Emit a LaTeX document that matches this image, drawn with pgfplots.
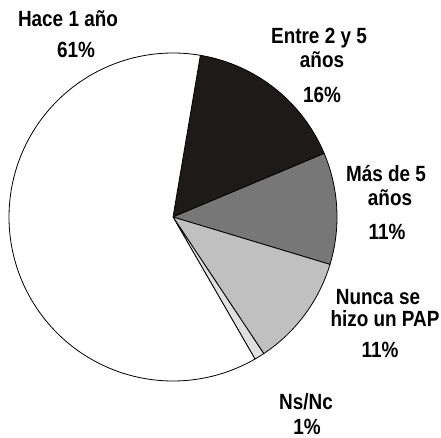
\documentclass[border=0pt]{standalone}
\usepackage{fontspec}
\usepackage{pgfplots}
\usepackage{pgfplotstable}
\pgfplotsset{compat=1.18}
\newfontfamily\lab{Liberation Sans}[FakeStretch=0.86]
\definecolor{cA}{HTML}{1E1A1A}
\definecolor{cB}{HTML}{777777}
\definecolor{cC}{HTML}{C0C0C0}
\definecolor{cD}{HTML}{E0E0E0}
\definecolor{cE}{HTML}{FFFFFF}
\pgfplotstableread{
share
16
11
11
1
61
}\piedata
\pgfplotstablegetelem{0}{share}\of\piedata \let\sA\pgfplotsretval
\pgfplotstablegetelem{1}{share}\of\piedata \let\sB\pgfplotsretval
\pgfplotstablegetelem{2}{share}\of\piedata \let\sC\pgfplotsretval
\pgfplotstablegetelem{3}{share}\of\piedata \let\sD\pgfplotsretval
\pgfplotstablegetelem{4}{share}\of\piedata \let\sE\pgfplotsretval
\pgfmathsetmacro\aA{80.4}
\pgfmathsetmacro\aB{\aA-3.6*\sA}
\pgfmathsetmacro\aC{\aB-3.6*\sB}
\pgfmathsetmacro\aD{\aC-3.6*\sC}
\pgfmathsetmacro\aE{\aD-3.6*\sD}
\pgfmathsetmacro\aF{\aE-3.6*\sE}
\begin{document}
\begin{tikzpicture}
\begin{axis}[
  scale only axis, width=441pt, height=438pt,
  xmin=0, xmax=441, ymin=0, ymax=438, y dir=reverse,
  hide axis, clip=false,
  every axis plot/.append style={draw=black, line width=0.8pt, line join=round},
]
\addplot[fill=cA, domain=\aB:\aA, samples=60, variable=\t] ({173+164*cos(t)},{217-164*sin(t)}) -- (axis cs:173,217) -- cycle;
\addplot[fill=cB, domain=\aC:\aB, samples=60, variable=\t] ({173+164*cos(t)},{217-164*sin(t)}) -- (axis cs:173,217) -- cycle;
\addplot[fill=cC, domain=\aD:\aC, samples=60, variable=\t] ({173+164*cos(t)},{217-164*sin(t)}) -- (axis cs:173,217) -- cycle;
\addplot[fill=cD, domain=\aE:\aD, samples=10, variable=\t] ({173+164*cos(t)},{217-164*sin(t)}) -- (axis cs:173,217) -- cycle;
\addplot[fill=cE, domain=\aF:\aE, samples=200, variable=\t] ({173+164*cos(t)},{217-164*sin(t)}) -- (axis cs:173,217) -- cycle;
\tikzset{lb/.style={anchor=base, inner sep=0pt, font=\lab\bfseries\fontsize{22}{24}\selectfont}}
\node[lb] at (axis cs:68,27) {Hace 1 año};
\node[lb] at (axis cs:76,58) {61\%};
\node[lb] at (axis cs:319,44) {Entre 2 y 5};
\node[lb] at (axis cs:322,68) {años};
\node[lb] at (axis cs:322,103) {16\%};
\node[lb] at (axis cs:386,182) {Más de 5};
\node[lb] at (axis cs:390,205) {años};
\node[lb] at (axis cs:387,240) {11\%};
\node[lb] at (axis cs:378,304) {Nunca se};
\node[lb] at (axis cs:385,326) {hizo un PAP};
\node[lb] at (axis cs:380,357) {11\%};
\node[lb] at (axis cs:306,409) {Ns/Nc};
\node[lb] at (axis cs:307,434) {1\%};
\end{axis}
\pgfresetboundingbox
\path[use as bounding box] (0,0) rectangle (441pt,438pt);
\end{tikzpicture}
\end{document}
